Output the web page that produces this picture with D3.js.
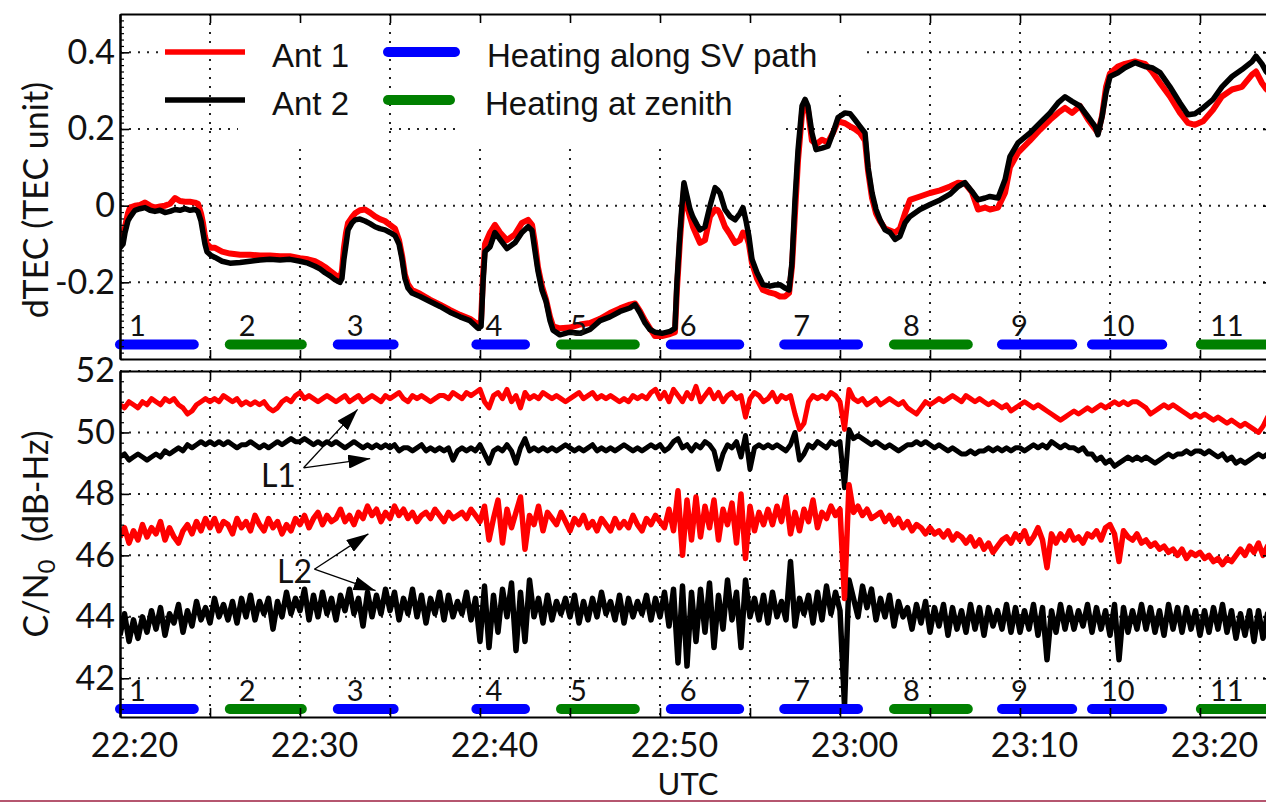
<!DOCTYPE html>
<html>
<head>
<meta charset="utf-8">
<script src="https://cdn.jsdelivr.net/npm/d3@7"></script>
<style>
  html, body { margin: 0; padding: 0; background: #fff; }
  svg { display: block; }
</style>
</head>
<body>
<svg id="chart" width="1266" height="802"></svg>
<script>
// ---------- axis ticks and labels (minutes after 22:20 UTC) ----------
const xTickMinutes = [0, 5, 10, 15, 20, 25, 30, 35, 40, 45, 50, 55, 60];
const xLabelMinutes = [0, 10, 20, 30, 40, 50, 60];
const xLabels = ["22:20", "22:30", "22:40", "22:50", "23:00", "23:10", "23:20"];
const dtecTicks = [-0.2, 0, 0.2, 0.4];
const dtecTickLabels = ["-0.2", "0", "0.2", "0.4"];
const cn0Ticks = [42, 44, 46, 48, 50, 52];
const cn0TickLabels = ["42", "44", "46", "48", "50", "52"];

// ---------- heating cycles ----------
const heatNumbers = ["1", "2", "3", "4", "5", "6", "7", "8", "9", "10", "11"];
const heatStart = [0, 6.1, 12.1, 19.8, 24.5, 30.6, 36.9, 43.0, 49.0, 54.0, 60.05];
const heatEnd   = [4.1, 10.1, 15.2, 22.5, 28.6, 34.4, 41.0, 47.1, 52.9, 57.9, 64.0];
const heatType  = ["path", "zenith", "path", "path", "zenith", "path", "path", "zenith", "path", "path", "zenith"];

// ---------- dTEC (TEC units), sample times in minutes ----------
const dtecMinutes = [
  0, 0.17, 0.28, 0.44, 0.56, 0.83, 1.11, 1.39, 1.67, 1.94,
  2.22, 2.5, 2.78, 3.06, 3.33, 3.61, 3.89, 4.17, 4.33, 4.5,
  4.61, 4.72, 4.83, 5.06, 5.28, 5.67, 6.11, 6.67, 7.22, 7.78,
  8.33, 8.89, 9.44, 10, 10.44, 10.83, 11.11, 11.39, 11.67, 11.94,
  12.22, 12.33, 12.44, 12.56, 12.67, 12.89, 13.06, 13.33, 13.61, 13.89,
  14.17, 14.44, 14.72, 15, 15.28, 15.5, 15.67, 15.83, 16, 16.22,
  16.67, 17.22, 17.78, 18.33, 18.89, 19.44, 19.89, 20.06, 20.17, 20.28,
  20.56, 20.83, 21.11, 21.5, 21.94, 22.33, 22.67, 22.89, 23.06, 23.22,
  23.44, 23.67, 23.89, 24.06, 24.44, 25, 25.56, 26.11, 26.67, 27.22,
  27.78, 28.33, 28.61, 28.89, 29.17, 29.44, 29.72, 30.11, 30.56, 30.83,
  30.94, 31.11, 31.22, 31.33, 31.5, 31.67, 31.83, 32.06, 32.22, 32.5,
  32.78, 33.06, 33.22, 33.33, 33.61, 33.89, 34.17, 34.44, 34.61, 34.78,
  34.94, 35.11, 35.39, 35.72, 36.11, 36.39, 36.67, 36.94, 37.17, 37.33,
  37.5, 37.67, 37.89, 38.06, 38.22, 38.44, 38.67, 39, 39.33, 39.61,
  39.89, 40.28, 40.56, 40.83, 41.11, 41.39, 41.56, 41.78, 42, 42.22,
  42.5, 42.78, 43.06, 43.33, 43.61, 43.89, 44.44, 45, 45.56, 46.11,
  46.56, 46.94, 47.33, 47.67, 48.06, 48.33, 48.78, 49.17, 49.44, 49.89,
  50.56, 51.11, 51.67, 52.11, 52.5, 52.89, 53.33, 53.78, 54.17, 54.33,
  54.56, 54.78, 55, 55.44, 55.83, 56.39, 56.94, 57.33, 57.78, 58.33,
  58.89, 59.33, 59.72, 60.17, 60.72, 61.22, 61.78, 62.33, 62.89, 63.11,
  63.44, 63.67, 63.89
];
const dtecAnt1 = [
  -0.09, -0.075, -0.055, -0.02, -0.005, 0.0, 0.002, 0.008, 0.0, -0.005,
  -0.002, 0.0, 0.005, 0.02, 0.012, 0.01, 0.01, 0.008, 0.005, -0.02,
  -0.045, -0.08, -0.10, -0.11, -0.11, -0.12, -0.125, -0.128, -0.128, -0.13,
  -0.13, -0.132, -0.132, -0.137, -0.14, -0.145, -0.152, -0.16, -0.17, -0.18,
  -0.19, -0.17, -0.11, -0.07, -0.045, -0.03, -0.02, -0.012, -0.01, -0.018,
  -0.028, -0.035, -0.04, -0.05, -0.06, -0.09, -0.13, -0.18, -0.205, -0.22,
  -0.23, -0.245, -0.258, -0.272, -0.285, -0.295, -0.31, -0.30, -0.18, -0.10,
  -0.07, -0.05, -0.07, -0.09, -0.075, -0.045, -0.037, -0.05, -0.10, -0.16,
  -0.21, -0.245, -0.29, -0.315, -0.32, -0.318, -0.31, -0.306, -0.295, -0.28,
  -0.268, -0.258, -0.255, -0.275, -0.30, -0.32, -0.34, -0.34, -0.335, -0.33,
  -0.22, -0.09, -0.02, 0.04, 0.0, -0.03, -0.055, -0.08, -0.097, -0.09,
  -0.028, -0.01, -0.012, -0.02, -0.055, -0.075, -0.097, -0.09, -0.07, -0.075,
  -0.10, -0.15, -0.19, -0.22, -0.227, -0.23, -0.237, -0.237, -0.228, -0.16,
  -0.02, 0.12, 0.24, 0.27, 0.25, 0.17, 0.16, 0.172, 0.165, 0.19,
  0.22, 0.215, 0.207, 0.2, 0.19, 0.17, 0.09, 0.02, -0.02, -0.04,
  -0.06, -0.065, -0.07, -0.06, -0.02, 0.015, 0.024, 0.033, 0.04, 0.05,
  0.06, 0.058, 0.035, -0.01, -0.005, -0.01, -0.005, 0.034, 0.10, 0.138,
  0.17, 0.198, 0.224, 0.242, 0.255, 0.242, 0.26, 0.225, 0.2, 0.19,
  0.235, 0.31, 0.345, 0.363, 0.37, 0.376, 0.37, 0.35, 0.32, 0.285,
  0.242, 0.216, 0.211, 0.22, 0.25, 0.285, 0.303, 0.31, 0.342, 0.35,
  0.32, 0.305, 0.295
];
const dtecAnt2 = [
  -0.11, -0.10, -0.07, -0.04, -0.03, -0.012, -0.008, -0.005, -0.012, -0.015,
  -0.012, -0.018, -0.015, -0.01, -0.012, -0.008, -0.012, -0.01, -0.015, -0.04,
  -0.07, -0.10, -0.12, -0.13, -0.135, -0.145, -0.15, -0.148, -0.145, -0.142,
  -0.14, -0.142, -0.14, -0.145, -0.15, -0.158, -0.165, -0.175, -0.183, -0.193,
  -0.2, -0.19, -0.14, -0.10, -0.063, -0.045, -0.037, -0.035, -0.04, -0.047,
  -0.055, -0.06, -0.063, -0.07, -0.078, -0.10, -0.14, -0.19, -0.215, -0.228,
  -0.237, -0.25, -0.263, -0.278, -0.29, -0.30, -0.32, -0.315, -0.20, -0.12,
  -0.107, -0.07, -0.088, -0.112, -0.097, -0.07, -0.055, -0.065, -0.12, -0.17,
  -0.22, -0.25, -0.30, -0.325, -0.337, -0.33, -0.333, -0.323, -0.30, -0.29,
  -0.276, -0.267, -0.258, -0.28, -0.306, -0.323, -0.33, -0.333, -0.328, -0.32,
  -0.20, -0.07, 0.0, 0.06, 0.025, -0.01, -0.03, -0.05, -0.063, -0.055,
  0.0, 0.047, 0.04, 0.033, -0.01, -0.028, -0.037, -0.02, -0.005, -0.04,
  -0.08, -0.14, -0.175, -0.206, -0.21, -0.207, -0.206, -0.215, -0.22, -0.15,
  0.015, 0.146, 0.26, 0.277, 0.26, 0.19, 0.146, 0.15, 0.155, 0.19,
  0.23, 0.242, 0.24, 0.224, 0.207, 0.19, 0.10, 0.033, -0.01, -0.037,
  -0.063, -0.07, -0.088, -0.08, -0.045, -0.028, -0.01, 0.003, 0.015, 0.03,
  0.05, 0.06, 0.037, 0.015, 0.02, 0.024, 0.02, 0.068, 0.128, 0.164,
  0.19, 0.216, 0.242, 0.268, 0.284, 0.272, 0.26, 0.232, 0.207, 0.185,
  0.232, 0.295, 0.337, 0.347, 0.36, 0.373, 0.363, 0.36, 0.347, 0.31,
  0.268, 0.237, 0.24, 0.255, 0.277, 0.31, 0.337, 0.355, 0.376, 0.39,
  0.37, 0.35, 0.34
];

// ---------- C/N0 (dB-Hz), one sample every 0.25 min from 22:20 ----------
const cn0StepMinutes = 0.25;
const cn0L1Ant1 = [
  50.9,50.8,51.0,50.9, 50.8,51.0,50.9,51.1, 51.0,50.9,51.1,51.0, 51.1,50.9,50.8,50.6, 50.7,50.9,51.0,51.1,
  51.0,51.1,51.0,51.2, 51.1,51.0,51.1,50.9, 51.0,50.9,51.0,50.9, 51.0,50.8,50.7,50.8, 51.0,51.1,51.0,51.2,
  51.3,51.1,51.2,51.1, 51.0,51.1,51.2,51.1, 51.0,51.1,51.2,51.0, 51.1,51.2,51.0,51.1, 51.2,51.1,51.0,51.2,
  51.1,51.2,51.3,51.1, 51.0,51.2,51.1,51.2, 51.1,51.0,51.1,51.2, 51.2,51.1,51.3,51.2, 51.1,51.3,51.2,51.3,
  51.4,51.0,50.8,51.2, 51.3,51.1,51.4,51.0, 51.2,50.8,51.3,51.1, 51.2,51.1,51.3,51.2, 51.1,51.2,51.1,51.0,
  51.1,51.2,51.3,51.1, 51.2,51.3,51.1,51.2, 51.1,51.2,51.1,51.0, 51.1,51.0,51.2,51.1, 51.2,51.1,51.3,51.4,
  51.1,51.3,51.0,51.4, 51.2,51.0,51.3,51.1, 51.5,51.0,51.2,51.4, 51.1,51.3,51.0,51.2, 51.3,51.1,51.2,50.5,
  51.1,51.3,51.2,51.0, 51.1,51.3,51.0,51.2, 51.1,51.2,50.6,50.1, 50.3,51.0,51.2,51.1, 51.2,51.1,51.3,51.2,
  51.0,50.1,51.4,51.1, 51.0,51.1,50.9,51.0, 51.1,50.9,51.0,51.1, 51.0,50.9,51.0,50.8, 50.7,50.6,50.8,51.0,
  50.9,51.0,51.1,51.0, 51.1,51.2,51.1,51.0, 51.2,51.1,51.0,51.1, 51.0,50.9,51.0,50.9, 50.8,50.9,50.7,50.8,
  50.9,51.0,50.9,50.8, 50.9,50.8,50.7,50.6, 50.5,50.4,50.5,50.6, 50.7,50.6,50.7,50.8, 50.7,50.8,50.9,50.8,
  50.9,51.0,50.9,51.0, 50.9,51.0,51.0,50.9, 50.8,50.6,50.7,50.8, 50.9,50.8,50.9,50.8, 50.7,50.6,50.5,50.6,
  50.5,50.6,50.5,50.4, 50.5,50.4,50.3,50.4, 50.3,50.2,50.3,50.2, 50.1,50.0,50.2,50.5, 50.5
];
const cn0L1Ant2 = [
  49.2,49.3,49.1,49.2, 49.3,49.2,49.1,49.2, 49.3,49.2,49.4,49.3, 49.4,49.5,49.4,49.6, 49.5,49.6,49.7,49.6,
  49.7,49.6,49.7,49.6, 49.7,49.6,49.5,49.6, 49.6,49.7,49.6,49.5, 49.6,49.5,49.6,49.7, 49.6,49.7,49.8,49.7,
  49.7,49.8,49.7,49.6, 49.7,49.6,49.7,49.6, 49.7,49.6,49.5,49.6, 49.7,49.6,49.5,49.6, 49.5,49.6,49.5,49.6,
  49.5,49.6,49.4,49.5, 49.5,49.4,49.5,49.6, 49.4,49.5,49.4,49.5, 49.4,49.5,49.1,49.4, 49.5,49.4,49.5,49.4,
  49.6,49.3,49.0,49.4, 49.5,49.4,49.6,49.4, 49.0,49.5,49.8,49.4, 49.5,49.4,49.5,49.4, 49.5,49.4,49.5,49.6,
  49.5,49.4,49.5,49.4, 49.5,49.6,49.4,49.5, 49.4,49.5,49.4,49.5, 49.6,49.5,49.4,49.5, 49.4,49.5,49.6,49.5,
  49.6,49.4,49.5,49.7, 49.8,49.5,49.6,49.4, 49.6,49.5,49.7,49.6, 49.4,48.8,49.3,49.6, 49.5,49.7,49.2,49.9,
  48.8,49.5,49.6,49.5, 49.6,49.5,49.6,49.5, 49.4,49.6,50.0,49.1, 49.3,49.6,49.5,49.7, 49.6,49.5,49.7,49.6,
  49.7,48.2,50.1,49.8, 49.9,49.8,49.7,49.6, 49.7,49.6,49.5,49.6, 49.5,49.4,49.5,49.6, 49.6,49.7,49.6,49.7,
  49.6,49.5,49.6,49.5, 49.4,49.5,49.4,49.3, 49.3,49.4,49.3,49.4, 49.4,49.5,49.4,49.5, 49.4,49.5,49.4,49.5,
  49.5,49.4,49.5,49.6, 49.5,49.6,49.5,49.7, 49.6,49.5,49.6,49.5, 49.5,49.4,49.5,49.3, 49.3,49.1,49.2,49.0,
  49.1,48.9,49.0,49.1, 49.2,49.1,49.2,49.1, 49.2,49.1,49.0,49.1, 49.2,49.3,49.2,49.3, 49.3,49.4,49.3,49.4,
  49.4,49.3,49.4,49.3, 49.2,49.3,49.1,49.2, 49.0,49.1,49.0,49.1, 49.2,49.3,49.2,49.3, 49.3
];
const cn0L2Ant1 = [
  46.6,46.9,46.4,46.8, 46.5,47.0,46.6,46.9, 46.7,47.1,46.5,46.9, 46.6,46.4,46.8,47.0, 46.7,47.1,46.8,47.2,
  46.9,47.2,46.8,47.1, 47.0,46.7,47.2,46.9, 47.1,46.8,47.3,47.0, 46.8,47.2,46.9,47.1, 46.7,47.0,46.8,47.2,
  47.0,47.3,46.9,47.2, 47.4,47.0,47.3,47.1, 47.2,47.5,47.1,47.3, 47.0,47.4,47.2,47.6, 47.3,47.5,47.1,47.4,
  47.2,47.6,47.3,47.5, 47.2,47.4,47.1,47.3, 47.4,47.2,47.5,47.3, 47.1,47.4,47.2,47.3, 47.4,47.2,47.5,47.3,
  47.1,47.6,46.5,47.2, 47.8,46.4,47.5,46.9, 47.4,47.9,46.2,47.3, 47.0,47.6,46.8,47.4, 47.2,47.0,47.4,47.1,
  46.8,47.2,47.0,47.3, 46.9,47.1,46.8,47.2, 47.0,46.8,47.2,46.9, 47.1,46.9,47.3,47.0, 46.8,47.2,47.0,47.3,
  47.1,46.9,47.5,46.8, 48.1,46.0,47.8,46.5, 47.9,46.6,47.6,46.9, 47.8,46.5,47.5,47.0, 47.7,46.4,48.0,45.9,
  47.6,46.8,47.4,47.0, 47.5,47.0,47.6,47.1, 47.9,46.7,47.4,46.8, 47.5,47.1,47.8,46.9, 47.4,47.2,47.6,47.3,
  47.5,44.6,48.3,47.4, 47.6,47.3,47.5,47.2, 47.3,47.4,47.1,47.3, 47.0,47.2,46.9,47.1, 46.8,47.0,46.9,46.7,
  46.9,46.7,46.8,46.6, 46.8,46.5,46.7,46.6, 46.4,46.6,46.3,46.5, 46.2,46.4,46.1,46.3, 46.5,46.6,46.4,46.7,
  46.5,46.8,46.4,46.6, 46.9,46.5,45.6,46.7, 46.4,46.7,46.5,46.8, 46.5,46.6,46.4,46.7, 46.6,46.8,46.5,46.9,
  47.0,46.7,45.8,46.8, 46.6,46.5,46.7,46.4, 46.5,46.3,46.4,46.2, 46.3,46.1,46.2,46.0, 46.2,45.9,46.1,46.0,
  46.1,45.9,46.0,45.8, 45.9,45.7,45.9,45.8, 46.0,46.2,46.0,46.3, 46.1,46.4,46.0,46.3, 46.2
];
const cn0L2Ant2 = [
  43.4,44.1,43.2,43.9, 43.3,44.0,43.5,44.2, 43.6,44.3,43.4,44.1, 43.8,44.4,43.5,44.2, 43.7,44.5,43.9,44.3,
  43.8,44.6,44.0,44.4, 43.9,44.5,43.8,44.6, 44.0,44.7,43.9,44.5, 44.1,44.6,43.6,44.5, 44.0,44.8,44.1,44.6,
  44.2,44.9,43.9,44.7, 44.0,44.8,44.1,44.6, 43.9,44.7,44.2,44.9, 44.1,44.6,43.7,44.8, 44.0,44.7,44.1,44.9,
  44.2,44.8,43.9,44.6, 44.1,44.9,44.0,44.7, 43.8,44.6,44.1,44.8, 43.9,44.7,44.0,44.5, 44.1,44.8,43.9,44.6,
  43.2,45.0,43.0,44.7, 43.5,44.9,44.0,45.1, 42.9,44.8,43.2,45.2, 44.0,44.6,43.8,44.7, 43.9,44.5,44.1,44.6,
  44.0,44.7,43.8,44.5, 43.9,44.6,44.0,44.8, 44.1,44.5,43.9,44.7, 43.8,44.6,44.0,44.5, 44.1,44.7,43.9,44.6,
  44.0,44.8,43.7,44.9, 42.5,45.0,42.4,44.8, 43.2,44.9,43.5,45.1, 43.0,44.7,43.6,45.2, 43.9,44.8,43.0,45.2,
  44.0,44.6,43.9,44.7, 43.8,44.8,44.0,44.5, 43.9,45.8,43.7,44.6, 44.1,44.7,43.8,44.8, 43.9,45.0,44.1,44.8,
  44.2,41.1,45.2,44.6, 44.0,45.0,44.3,44.9, 43.9,44.6,44.0,44.7, 43.7,44.5,44.0,44.3, 43.6,44.4,43.8,44.5,
  43.5,44.3,43.7,44.4, 43.4,44.3,43.6,44.2, 43.5,44.4,43.6,44.3, 43.4,44.3,43.7,44.2, 43.6,44.4,43.5,44.3,
  43.5,44.2,43.6,44.4, 43.4,44.3,42.6,44.2, 43.5,44.4,43.6,44.3, 43.6,44.2,43.7,44.4, 43.5,44.3,43.6,44.2,
  43.4,44.4,42.6,44.3, 43.5,44.2,43.6,44.4, 43.6,44.3,43.5,44.2, 43.4,44.4,43.6,44.3, 43.5,44.3,43.6,44.2,
  43.4,44.2,43.5,44.3, 43.6,44.4,43.5,44.2, 43.3,44.1,43.4,44.2, 43.2,44.2,43.3,44.1, 43.4
];

// ---------- colours and fonts ----------
const RED = "#ff0000", BLACK = "#000000", BLUE = "#0000ff", GREEN = "#008000";
const TICK_FONT = "Lato, 'DejaVu Sans', sans-serif";
const LEGEND_FONT = "'Liberation Sans', Arial, sans-serif";

// ---------- layout ----------
const W = 1266, H = 802;
const plotLeft = 120, plotRight = 1272;
const topPanel = { top: 14, bottom: 359 };
const botPanel = { top: 371, bottom: 717 };

const svg = d3.select("#chart");
svg.append("rect").attr("width", W).attr("height", H).attr("fill", "#fff");

const x = d3.scaleLinear().domain([0, 64]).range([plotLeft, plotRight]);
const yTop = d3.scaleLinear().domain([-0.4, 0.5]).range([topPanel.bottom, topPanel.top]);
const yBot = d3.scaleLinear().domain([40.74, 52]).range([botPanel.bottom, botPanel.top]);

const defs = svg.append("defs");
defs.append("clipPath").attr("id", "clipTop").append("rect")
  .attr("x", plotLeft).attr("y", topPanel.top)
  .attr("width", plotRight - plotLeft).attr("height", topPanel.bottom - topPanel.top);
defs.append("clipPath").attr("id", "clipBot").append("rect")
  .attr("x", plotLeft).attr("y", botPanel.top)
  .attr("width", plotRight - plotLeft).attr("height", botPanel.bottom - botPanel.top);
defs.append("marker")
  .attr("id", "arrowHead").attr("viewBox", "0 0 22 14")
  .attr("refX", 22).attr("refY", 7)
  .attr("markerWidth", 22).attr("markerHeight", 14)
  .attr("markerUnits", "userSpaceOnUse").attr("orient", "auto")
  .append("path").attr("d", "M0,0L22,7L0,14Z").attr("fill", "#000");

// dotted grid of a panel
function drawGrid(panel, yScale, yTicks) {
  const g = svg.append("g").attr("stroke", "#222").attr("stroke-width", 2)
    .attr("stroke-dasharray", "2 7").attr("fill", "none");
  g.selectAll("line.v").data(xTickMinutes.filter(d => d > 0)).join("line")
    .attr("x1", d => x(d)).attr("x2", d => x(d))
    .attr("y1", panel.top).attr("y2", panel.bottom);
  g.selectAll("line.h").data(yTicks).join("line")
    .attr("x1", plotLeft).attr("x2", plotRight)
    .attr("y1", d => yScale(d)).attr("y2", d => yScale(d));
}
drawGrid(topPanel, yTop, dtecTicks);
drawGrid(botPanel, yBot, cn0Ticks);

// legend backgrounds hide the grid behind the legend entries
const legendBg = svg.append("g").attr("fill", "#fff");
legendBg.append("rect").attr("x", 238).attr("y", 16).attr("width", 147).attr("height", 128);
legendBg.append("rect").attr("x", 455).attr("y", 16).attr("width", 412).attr("height", 74);
legendBg.append("rect").attr("x", 455).attr("y", 88).attr("width", 325).attr("height", 56);

// ---------- dTEC traces ----------
const dtecLine = vals => d3.line()
  .x((d, i) => x(dtecMinutes[i])).y(d => yTop(d))
  .curve(d3.curveLinear)(vals);
const topData = svg.append("g").attr("clip-path", "url(#clipTop)")
  .attr("fill", "none").attr("stroke-linejoin", "round").attr("stroke-linecap", "round");
topData.append("path").attr("d", dtecLine(dtecAnt1)).attr("stroke", RED).attr("stroke-width", 6);
topData.append("path").attr("d", dtecLine(dtecAnt2)).attr("stroke", BLACK).attr("stroke-width", 5.5);

// ---------- C/N0 traces ----------
const cn0Line = vals => d3.line()
  .x((d, i) => x(i * cn0StepMinutes)).y(d => yBot(d))
  .curve(d3.curveLinear)(vals);
const botData = svg.append("g").attr("clip-path", "url(#clipBot)")
  .attr("fill", "none").attr("stroke-linejoin", "round");
botData.append("path").attr("d", cn0Line(cn0L2Ant2)).attr("stroke", BLACK).attr("stroke-width", 5.5);
botData.append("path").attr("d", cn0Line(cn0L1Ant2)).attr("stroke", BLACK).attr("stroke-width", 5);
botData.append("path").attr("d", cn0Line(cn0L2Ant1)).attr("stroke", RED).attr("stroke-width", 5.5);
botData.append("path").attr("d", cn0Line(cn0L1Ant1)).attr("stroke", RED).attr("stroke-width", 5);

// ---------- heating bars with cycle numbers ----------
function drawHeating(yScale, barValue) {
  const g = svg.append("g");
  const yb = yScale(barValue);
  g.selectAll("line").data(heatStart).join("line")
    .attr("x1", (d) => x(d)).attr("x2", (d, i) => x(heatEnd[i]))
    .attr("y1", yb).attr("y2", yb)
    .attr("stroke", (d, i) => heatType[i] === "path" ? BLUE : GREEN)
    .attr("stroke-width", 10).attr("stroke-linecap", "round");
  g.selectAll("text").data(heatNumbers).join("text")
    .attr("x", (d, i) => x(heatStart[i]) + 9).attr("y", yb - 8)
    .attr("font-family", TICK_FONT).attr("font-size", 29).attr("fill", "#111")
    .text(d => d);
}
drawHeating(yTop, -0.362);
drawHeating(yBot, 41.0);

// ---------- frames, ticks and tick labels ----------
function styleAxis(g) {
  g.selectAll("path.domain").attr("stroke", "#000").attr("stroke-width", 2);
  g.selectAll(".tick line").attr("stroke", "#000").attr("stroke-width", 1.6);
}
function drawFrame(panel, yScale, yTicks, yLabels, minorStep) {
  const [lo, hi] = yScale.domain();
  const minor = d3.range(Math.ceil(lo / minorStep) * minorStep, hi, minorStep);
  svg.append("g").attr("transform", `translate(0,${panel.top})`)
    .call(d3.axisTop(x).tickValues(xTickMinutes).tickSizeInner(-9).tickSizeOuter(0).tickFormat(""))
    .call(styleAxis);
  svg.append("g").attr("transform", `translate(0,${panel.bottom})`)
    .call(d3.axisBottom(x).tickValues(xTickMinutes).tickSizeInner(-9).tickSizeOuter(0).tickFormat(""))
    .call(styleAxis);
  svg.append("g").attr("transform", `translate(${plotLeft},0)`)
    .call(d3.axisLeft(yScale).tickValues(minor).tickSizeInner(-4).tickSizeOuter(0).tickFormat(""))
    .call(styleAxis).call(g => g.selectAll(".tick line").attr("stroke-width", 1.2));
  const left = svg.append("g").attr("transform", `translate(${plotLeft},0)`)
    .call(d3.axisLeft(yScale).tickValues(yTicks).tickSizeInner(-9).tickSizeOuter(0)
      .tickPadding(5).tickFormat((d, i) => yLabels[i]))
    .call(styleAxis);
  left.selectAll("text").attr("font-family", TICK_FONT).attr("font-size", 34).attr("fill", "#111");
  svg.append("g").attr("transform", `translate(${plotRight},0)`)
    .call(d3.axisRight(yScale).tickValues(yTicks).tickSizeInner(-9).tickSizeOuter(0).tickFormat(""))
    .call(styleAxis);
}
drawFrame(topPanel, yTop, dtecTicks, dtecTickLabels, 0.2 / 12);
drawFrame(botPanel, yBot, cn0Ticks, cn0TickLabels, 1 / 3);

const xLab = svg.append("g").attr("transform", `translate(0,${botPanel.bottom})`)
  .call(d3.axisBottom(x).tickValues(xLabelMinutes).tickSize(0).tickPadding(16)
    .tickFormat((d, i) => xLabels[i]));
xLab.select("path.domain").remove();
xLab.selectAll("text").attr("font-family", TICK_FONT).attr("font-size", 34)
  .attr("fill", "#111").attr("dx", 14);

// ---------- axis titles ----------
svg.append("text").attr("transform", "translate(48,200) rotate(-90)")
  .attr("text-anchor", "middle").attr("font-family", TICK_FONT).attr("font-size", 34)
  .attr("fill", "#111").text("dTEC (TEC unit)");
const cnTitle = svg.append("text").attr("transform", "translate(48,534) rotate(-90)")
  .attr("text-anchor", "middle").attr("font-family", TICK_FONT).attr("font-size", 34)
  .attr("fill", "#111");
cnTitle.append("tspan").text("C/N");
cnTitle.append("tspan").attr("font-size", 24).attr("dy", 7).text("0");
cnTitle.append("tspan").attr("dy", -7).text("\u00a0\u00a0(dB-Hz)");
svg.append("text").attr("x", 688).attr("y", 795).attr("text-anchor", "middle")
  .attr("font-family", TICK_FONT).attr("font-size", 31).attr("fill", "#111").text("UTC");

// ---------- legend ----------
const legend = svg.append("g").attr("font-family", LEGEND_FONT).attr("font-size", 33).attr("fill", "#111");
const legendRows = [
  { x1: 165, x2: 245, y: 52, color: RED, width: 5.5, label: "Ant 1", tx: 272 },
  { x1: 165, x2: 245, y: 100, color: BLACK, width: 5.5, label: "Ant 2", tx: 272 },
  { x1: 388, x2: 455, y: 52, color: BLUE, width: 10, label: "Heating along SV path", tx: 487 },
  { x1: 388, x2: 450, y: 100, color: GREEN, width: 10, label: "Heating at zenith", tx: 485 }
];
legendRows.forEach(r => {
  legend.append("line").attr("x1", r.x1).attr("x2", r.x2).attr("y1", r.y).attr("y2", r.y)
    .attr("stroke", r.color).attr("stroke-width", r.width)
    .attr("stroke-linecap", r.width > 6 ? "round" : "butt");
  legend.append("text").attr("x", r.tx).attr("y", r.y + 15).text(r.label);
});

// ---------- L1 / L2 annotations ----------
const notes = svg.append("g");
function annotate(label, lx, ly, from, targets) {
  notes.append("text").attr("x", x(lx)).attr("y", yBot(ly)).attr("text-anchor", "middle")
    .attr("dy", "0.35em").attr("font-family", TICK_FONT).attr("font-size", 32).attr("fill", "#111")
    .text(label);
  targets.forEach(t => {
    notes.append("line").attr("x1", x(from[0])).attr("y1", yBot(from[1]))
      .attr("x2", x(t[0])).attr("y2", yBot(t[1]))
      .attr("stroke", "#000").attr("stroke-width", 1.3).attr("marker-end", "url(#arrowHead)");
  });
}
annotate("L1", 8.8, 48.6, [10.2, 48.85], [[13.2, 50.75], [13.9, 49.15]]);
annotate("L2", 9.7, 45.45, [10.8, 45.55], [[13.8, 46.7], [14.2, 44.85]]);

// thin rule along the bottom edge
svg.append("rect").attr("x", 0).attr("y", 800).attr("width", W).attr("height", 2).attr("fill", "#b5566f");
</script>
</body>
</html>
